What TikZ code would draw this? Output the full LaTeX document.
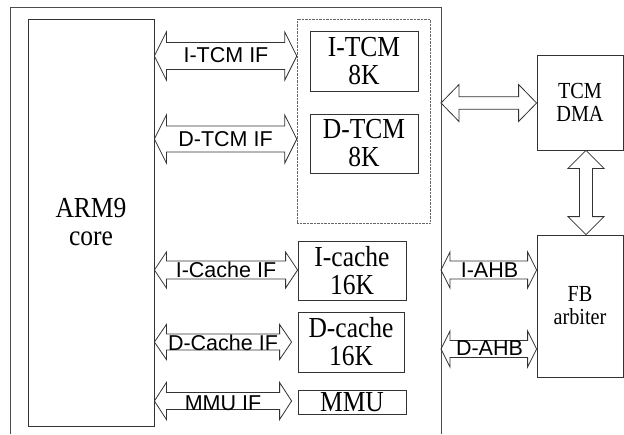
\documentclass[tikz,border=0pt]{standalone}
\usepackage{fontspec}
\setmainfont{Liberation Serif}
\newfontfamily\narrowserif[FakeStretch=0.88]{Liberation Serif}
\newfontfamily\arialfont{Liberation Sans}
\usetikzlibrary{calc}

\begin{document}
\begin{tikzpicture}[x=1pt, y=-1pt,
    every node/.style={inner sep=0pt},
    blk/.style 2 args={draw=black!80, line width=0.8pt, minimum width=#1, minimum height=#2,
      align=center, font=\narrowserif\fontsize{29}{28}\selectfont},
    smallblk/.style 2 args={blk={#1}{#2}, font=\narrowserif\fontsize{23}{23}\selectfont},
    buslbl/.style={anchor=base, font=\arialfont\fontsize{21.5}{21.5}\selectfont},
    bus/.style n args={3}{draw=black!80, line width=0.8pt, to path={
      -- ($(\tikztostart)!#3!(\tikztotarget)!#2!90:(\tikztotarget)$)
      -- ($(\tikztostart)!#3!(\tikztotarget)!#1!90:(\tikztotarget)$)
      -- ($(\tikztotarget)!#3!(\tikztostart)!#1!-90:(\tikztostart)$)
      -- ($(\tikztotarget)!#3!(\tikztostart)!#2!-90:(\tikztostart)$)
      -- (\tikztotarget)
      -- ($(\tikztotarget)!#3!(\tikztostart)!#2!90:(\tikztostart)$)
      -- ($(\tikztotarget)!#3!(\tikztostart)!#1!90:(\tikztostart)$)
      -- ($(\tikztostart)!#3!(\tikztotarget)!#1!-90:(\tikztotarget)$)
      -- ($(\tikztostart)!#3!(\tikztotarget)!#2!-90:(\tikztotarget)$)
      -- cycle}}]
      \useasboundingbox (0, 0) rectangle (624, 434);

      % chip outline, open at the bottom
      \coordinate (chipL) at (10, 7);
      \coordinate (chipR) at (441, 7);
      \draw[black!70, line width=1pt] (chipL |- 0, 434) -- (chipL) -- (chipR) -- (chipR |- 0, 434);

      \node[blk={126pt}{407pt}] (core) at (91, 222.5){ARM9\\core};
      \node[draw=black!60, densely dotted, minimum width=133pt, minimum height=204pt] (tcmgrp) at (363.5, 121){};
      \node[blk={108pt}{60pt}] (itcm) at (364, 61){I-TCM\\8K};
      \node[blk={108pt}{59pt}] (dtcm) at (364, 143.5){D-TCM\\8K};
      \node[blk={108pt}{59pt}] (icache) at (352, 270.5){I-cache\\16K};
      \node[blk={106pt}{60pt}] (dcache) at (351, 342){D-cache\\16K};
      \node[blk={108pt}{24pt}] (mmu) at (352, 402){MMU};
      \node[smallblk={86pt}{95pt}] (tcmdma) at (580, 102.5){TCM\\DMA};
      \node[smallblk={86pt}{142pt}] (fbarb) at (580, 306){FB\\arbiter};

      \coordinate (dcin) at ([xshift=-6pt]dcache.west);
      \coordinate (mmuin) at ([xshift=-6pt]mmu.west);

      \draw[bus={13.5pt}{24pt}{12pt}] (core.east |- 0, 56) to (tcmgrp.west |- 0, 56);
      \draw[bus={13pt}{24pt}{12pt}] (core.east |- 0, 139) to (tcmgrp.west |- 0, 139);
      \draw[bus={9pt}{18pt}{12pt}] (core.east |- 0, 270) to (icache.west |- 0, 270);
      \draw[bus={8pt}{17.5pt}{12pt}] (core.east |- 0, 342) to (dcin |- 0, 342);
      \draw[bus={8.5pt}{18.5pt}{12pt}] (core.east |- 0, 401) to (mmuin |- 0, 401);
      \draw[bus={6.3pt}{18.5pt}{18pt}] (chipR |- 0, 103) to (tcmdma.west |- 0, 103);
      \draw[bus={6.5pt}{18pt}{18pt}] (tcmdma.south -| 586, 0) to (fbarb.north -| 586, 0);
      \draw[bus={9pt}{18pt}{9pt}] (chipR |- 0, 270) to (fbarb.west |- 0, 270);
      \draw[bus={8.5pt}{18pt}{9pt}] (chipR |- 0, 349) to (fbarb.west |- 0, 349);

      \node[buslbl] (itcmif) at (226, 62){I-TCM IF};
      \node[buslbl] (dtcmif) at (225.5, 146){D-TCM IF};
      \node[buslbl] (icacheif) at (226, 277){I-Cache IF};
      \node[buslbl] (dcacheif) at (223, 350){D-Cache IF};
      \node[buslbl] (mmuif) at (223, 410){MMU IF};
      \node[buslbl] (iahb) at (489.5, 277){I-AHB};
      \node[buslbl] (dahb) at (489.5, 355){D-AHB};
    \end{tikzpicture}
\end{document}
